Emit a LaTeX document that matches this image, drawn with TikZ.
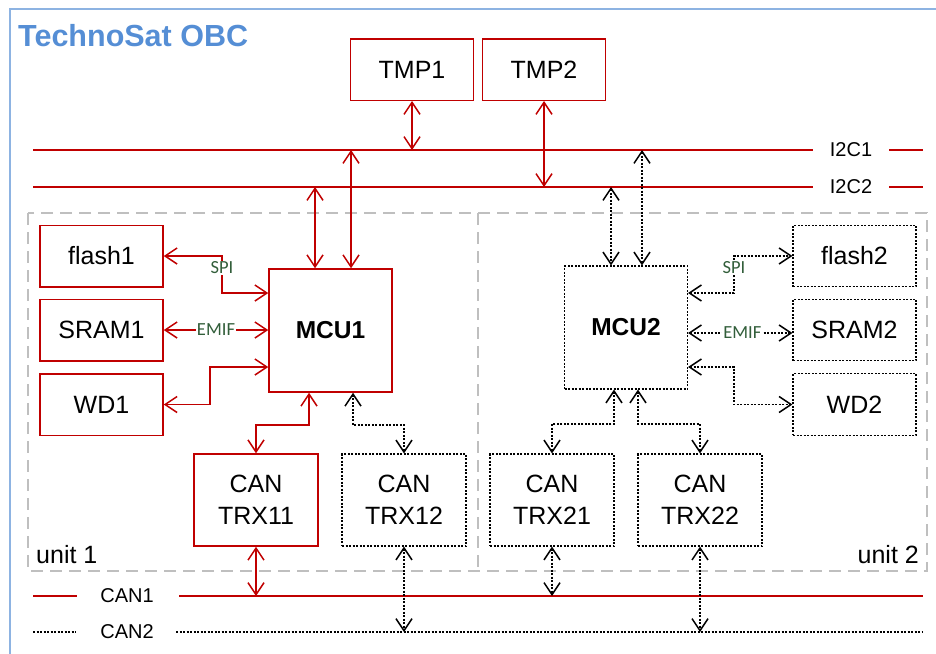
\documentclass[tikz,border=0pt]{standalone}
\usepackage{fontspec}
\setmainfont{Liberation Sans}
\newfontfamily\ifacefont{Carlito}
\usetikzlibrary{arrows.meta}
\definecolor{obcred}{RGB}{192,0,0}
\definecolor{obcblue}{RGB}{85,142,213}
\definecolor{framebl}{RGB}{141,179,226}
\definecolor{unitgray}{RGB}{191,191,191}
\definecolor{ifgreen}{RGB}{50,94,58}
\tikzset{
	blockbox/.style = {
		align=center,
		inner sep=0pt,
		text centered,
		font=\fontsize{25}{31.5}\selectfont,
		minimum width=123pt,
		minimum height=61.5pt
	},
	box_r/.style = {
		blockbox,
		draw=obcred,
		line width=1.5pt
	},
	box_d/.style = {
		blockbox,
		draw=black,
		line width=1.2pt,
		dash pattern=on 2pt off 1.5pt
	},
	box_mcu/.style = {
		minimum height=123pt,
		font=\fontsize{24.5}{30}\selectfont\bfseries
	},
	box_trx/.style = {
		minimum width=124pt,
		minimum height=92pt
	},
	link_r/.style = {
		<->,
		draw=obcred,
		line width=1.4pt
	},
	link_d/.style = {
		<->,
		draw=black,
		line width=1.2pt,
		dash pattern=on 2pt off 1.5pt
	},
	bus_r/.style = {
		draw=obcred,
		line width=1.4pt
	},
	bus_d/.style = {
		draw=black,
		line width=1.2pt,
		dash pattern=on 2pt off 1.5pt
	},
	label_if/.style = {
		fill=white,
		inner sep=1pt,
		text=ifgreen,
		font=\ifacefont\fontsize{18.5}{18.5}\selectfont
	},
	label_bus/.style = {
		inner sep=0pt,
		font=\fontsize{20}{20}\selectfont
	},
	label_unit/.style = {
		inner sep=0pt,
		font=\fontsize{25}{25}\selectfont
	},
}

\begin{document}
\begin{tikzpicture}[x=1pt,y=-1pt,>={Straight Barb[length=12pt,width=16pt,line width=1.5pt]}]
\useasboundingbox (0,0) rectangle (936,653);
\draw[framebl, line width=1.5pt] (10,9) rectangle (960,680);
\node[anchor=base west, inner sep=0pt, text=obcblue, font=\fontsize{30.5}{30}\selectfont\bfseries] (title) at (18,46) {TechnoSat OBC};

% units
\draw[unitgray, line width=1.5pt, dash pattern=on 12pt off 7pt] (28,213) rectangle (927,571);
\draw[unitgray, line width=1.5pt, dash pattern=on 12pt off 7pt] (478,213) -- (478,571);
\node[label_unit, anchor=base west] (unit1) at (36,563) {unit 1};
\node[label_unit, anchor=base east] (unit2) at (919,563) {unit 2};

% buses
\coordinate (i2c1) at (33,150);
\coordinate (i2c2) at (33,187);
\coordinate (can1) at (33,596);
\coordinate (can2) at (33,632);
\draw[bus_r] (i2c1) -- (813,150);
\draw[bus_r] (889,150) -- (923,150);
\node[label_bus] (l_i2c1) at (851,150) {I2C1};
\draw[bus_r] (i2c2) -- (813,187);
\draw[bus_r] (889,187) -- (923,187);
\node[label_bus] (l_i2c2) at (851,187) {I2C2};
\draw[bus_r] (can1) -- (77,596);
\draw[bus_r] (179,596) -- (923,596);
\node[label_bus] (l_can1) at (127,596) {CAN1};
\draw[bus_d] (can2) -- (76,632);
\draw[bus_d] (176,632) -- (923,632);
\node[label_bus] (l_can2) at (127,632) {CAN2};

% blocks
\node[box_r] (tmp1) at (412,69.5) {TMP1};
\node[box_r] (tmp2) at (544,69.5) {TMP2};
\node[box_r] (flash1) at (101.5,256) {flash1};
\node[box_r] (sram1) at (101.5,330) {SRAM1};
\node[box_r] (wd1) at (101.5,404.5) {WD1};
\node[box_r, box_mcu] (mcu1) at (330.5,330.5) {MCU1};
\node[box_d, box_mcu] (mcu2) at (626,327.5) {MCU2};
\node[box_d] (flash2) at (854.5,256) {flash2};
\node[box_d] (sram2) at (854.5,330) {SRAM2};
\node[box_d] (wd2) at (854.5,404.5) {WD2};
\node[box_r, box_trx] (trx11) at (256,500) {CAN\\TRX11};
\node[box_d, box_trx] (trx12) at (404,500) {CAN\\TRX12};
\node[box_d, box_trx] (trx21) at (552,500) {CAN\\TRX21};
\node[box_d, box_trx] (trx22) at (700,500) {CAN\\TRX22};

% I2C
\draw[link_r] (tmp1.south) -- (tmp1.south |- i2c1);
\draw[link_r] (tmp2.south) -- (tmp2.south |- i2c2);
\draw[link_r] (i2c1 -| 351,0) -- (mcu1.north -| 351,0);
\draw[link_r] (i2c2 -| 315,0) -- (mcu1.north -| 315,0);
\draw[link_d] (i2c1 -| 642,0) -- (mcu2.north -| 642,0);
\draw[link_d] (i2c2 -| 611,0) -- (mcu2.north -| 611,0);

% unit 1 peripherals
\draw[link_r] (flash1.east) -- (222,256) -- node[label_if, pos=0.32] {SPI} (222,293) -- (mcu1.west |- 0,293);
\draw[link_r] (sram1.east) -- node[label_if] {EMIF} (mcu1.west |- sram1.east);
\draw[link_r] (wd1.east) -| (210,367) -- (mcu1.west |- 0,367);

% unit 2 peripherals
\draw[link_d] (mcu2.east |- 0,293) -- (734,293) -- node[label_if, pos=0.68] {SPI} (734,256) -- (flash2.west);
\draw[link_d] (mcu2.east |- 0,333) -- node[label_if, pos=0.52] {EMIF} (sram2.west |- 0,333);
\draw[link_d] (mcu2.east |- 0,367) -- (734,367) |- (wd2.west);

% CAN transceivers
\draw[link_r] (mcu1.south -| 309,0) -- (309,425) -| (trx11.north);
\draw[link_d] (mcu1.south -| 353,0) -- (353,425) -| (trx12.north);
\draw[link_d] (mcu2.south -| 614,0) -- (614,424) -| (trx21.north);
\draw[link_d] (mcu2.south -| 638,0) -- (638,424) -| (trx22.north);
\draw[link_r] (trx11.south) -- (trx11.south |- can1);
\draw[link_d] (trx12.south) -- (trx12.south |- can2);
\draw[link_d] (trx21.south) -- (trx21.south |- can1);
\draw[link_d] (trx22.south) -- (trx22.south |- can2);
\end{tikzpicture}
\end{document}
